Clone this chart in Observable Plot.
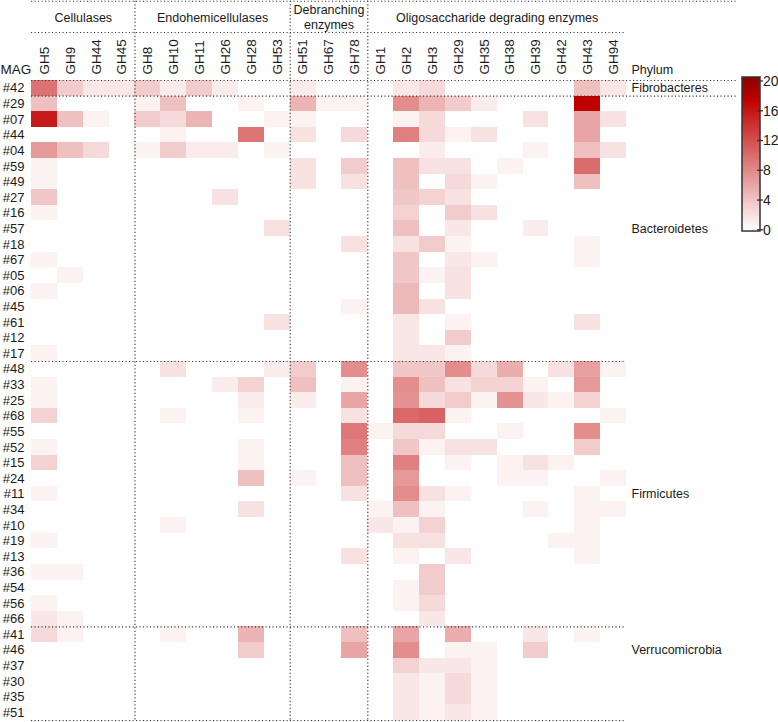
<!DOCTYPE html>
<html><head><meta charset="utf-8">
<script src="https://cdn.jsdelivr.net/npm/d3@7"></script>
<script src="https://cdn.jsdelivr.net/npm/@observablehq/plot@0.6"></script>
<style>
body{margin:0;background:#fff;}
#chart svg{display:block;}
</style></head><body><div id="chart"></div>
<script>
// ---- data ----
const columns = ["GH5","GH9","GH44","GH45","GH8","GH10","GH11","GH26","GH28","GH53","GH51","GH67","GH78","GH1","GH2","GH3","GH29","GH35","GH38","GH39","GH42","GH43","GH94"];
const groupLabels = ["Cellulases","Endohemicellulases","Debranching\nenzymes","Oligosaccharide degrading enzymes"];
const groupSizes = [4,6,3,10];
const mags = ["#42","#29","#07","#44","#04","#59","#49","#27","#16","#57","#18","#67","#05","#06","#45","#61","#12","#17","#48","#33","#25","#68","#55","#52","#15","#24","#11","#34","#10","#19","#13","#36","#54","#56","#66","#41","#46","#37","#30","#35","#51"];
const phylumNames = ["Fibrobacteres","Bacteroidetes","Firmicutes","Verrucomicrobia"];
const phylumSizes = [1,17,17,6];
const phylumLabelAt = ["#42","#57","#11","#46"];
const colorTicks = [0,4,8,12,16,20];
const colorStops = [0,17,20];
const colorRange = ["#ffffff","#c00000","#8b0000"];
const values = [
  [9.4,3.4,1.7,1.7, 3.4,1.3,3.4,1.3,0,0, 1.3,0,0, 0,1.7,2.5,0,0,0,0,0,4.2,1.7],   // #42
  [4.2,0,0,0, 0.9,4.2,0,0,0.9,0, 5,0.9,0.9, 0,7.6,5,3.4,1.3,0,0,0,17,0],         // #29
  [15.3,4.2,0.9,0, 3.4,2.5,5,0,0,0.9, 0.9,0,0, 0,0.9,2.5,0,0,0,2,0,6,2],         // #07
  [0,0,0,0, 0,0.9,0,0,9.2,0, 2,0,2.5, 0,8.5,2.5,0.9,2,0,0,0,6,0],                // #44
  [6.8,4.2,2.5,0, 0.9,3.4,1.3,1.3,0,0.9, 0,0,0, 0,0,1.3,0,0,0,0.9,0,4.2,2],      // #04
  [0.9,0,0,0, 0,0,0,0,0,0, 2,0,3.4, 0,4.2,2,2,0,0.9,0,0,9.8,0],                  // #59
  [0.9,0,0,0, 0,0,0,0,0,0, 2,0,2, 0,4.2,0,2.5,0.9,0,0,0,4.2,0],                  // #49
  [3.8,0,0,0, 0,0,0,2,0,0, 0,0,0, 0,3.8,3,2,0,0,0,0,0,0],                        // #27
  [0.9,0,0,0, 0,0,0,0,0,0, 0,0,0, 0,3,0,3.4,2,0,0,0,0,0],                        // #16
  [0,0,0,0, 0,0,0,0,0,2, 0,0,0, 0,4.2,0,1.7,0,0,1.3,0,0,0],                      // #57
  [0,0,0,0, 0,0,0,0,0,0, 0,0,2, 0,2,3.4,0.9,0,0,0,0,0.9,0],                      // #18
  [0.9,0,0,0, 0,0,0,0,0,0, 0,0,0, 0,3.8,0,1.7,0.9,0,0,0,0.9,0],                  // #67
  [0,0.9,0,0, 0,0,0,0,0,0, 0,0,0, 0,3.8,0.9,2,0,0,0,0,0,0],                      // #05
  [0.9,0,0,0, 0,0,0,0,0,0, 0,0,0, 0,4.7,0,2,0,0,0,0,0,0],                        // #06
  [0,0,0,0, 0,0,0,0,0,0, 0,0,0.9, 0,4.7,2,0,0,0,0,0,0,0],                        // #45
  [0,0,0,0, 0,0,0,0,0,2, 0,0,0, 0,1.7,0,0.9,0,0,0,0,2,0],                        // #61
  [0,0,0,0, 0,0,0,0,0,0, 0,0,0, 0,1.7,0,3.4,0,0,0,0,0,0],                        // #12
  [0.9,0,0,0, 0,0,0,0,0,0, 0,0,0, 0,1.7,1.7,0.9,0,0,0,0,0,0],                    // #17
  [0,0,0,0, 0,2,0,0,0,1.3, 3.4,0,7.6, 0,3.8,3.8,7.6,2.5,5.5,0,2,6.4,0.9],        // #48
  [0.9,0,0,0, 0,0,0,1.3,3,0, 4.2,0,0.9, 0,7.6,4.2,2,3,3,0.9,0,6.8,0],            // #33
  [0.9,0,0,0, 0,0,0,0,1.3,0, 1.3,0,6, 0,7.2,2.5,3.4,0.9,7.2,1.7,0.9,3,0],        // #25
  [3,0,0,0, 0,0.9,0,0,0.9,0, 0,0,2, 0,10,10.5,0.9,0,0,0,0,0,0.9],                // #68
  [0,0,0,0, 0,0,0,0,0,0, 0,0,9, 0.9,2.5,2.5,0,0,0.9,0,0,7.6,0],                  // #55
  [0.9,0,0,0, 0,0,0,0,0.9,0, 0,0,8.5, 0,3.8,0.9,2,2,0,0,0,3.4,0],                // #52
  [3,0,0,0, 0,0,0,0,0.9,0, 0,0,4.2, 0,8.5,0,0.9,0,0.9,2,0.9,0,0],                // #15
  [0,0,0,0, 0,0,0,0,4.2,0, 0.9,0,4.2, 0,6.8,0,0,0,0.9,0.9,0,0,0.9],              // #24
  [0.9,0,0,0, 0,0,0,0,0,0, 0,0,2, 0,7.6,2,0.9,0,0,0,0,0.9,0],                    // #11
  [0,0,0,0, 0,0,0,0,2,0, 0,0,0, 0.9,4.2,0.9,0,0,0,0.9,0,0.9,0.9],                // #34
  [0,0,0,0, 0,0.9,0,0,0,0, 0,0,0, 1.7,0.9,3,0,0,0,0,0,0.9,0],                    // #10
  [0.9,0,0,0, 0,0,0,0,0,0, 0,0,0, 0,2,2,0,0,0,0,0.9,0.9,0],                      // #19
  [0,0,0,0, 0,0,0,0,0,0, 0,0,2, 0,0.9,0,1.7,0,0,0,0,0.9,0],                      // #13
  [0.9,0.9,0,0, 0,0,0,0,0,0, 0,0,0, 0,0,3.4,0,0,0,0,0,0,0],                      // #36
  [0,0,0,0, 0,0,0,0,0,0, 0,0,0, 0,0.9,3.4,0,0,0,0,0,0,0],                        // #54
  [0.9,0,0,0, 0,0,0,0,0,0, 0,0,0, 0,0.9,2.5,0,0,0,0,0,0,0],                      // #56
  [1.7,0.9,0,0, 0,0,0,0,0,0, 0,0,0, 0,0,1.7,0,0,0,0,0,0,0],                      // #66
  [2.5,0.9,0,0, 0,0.9,0,0,5,0, 0,0,4.2, 0,6,0,5.5,0,0,1.7,0,0.9,0],              // #41
  [0,0,0,0, 0,0,0,0,3.4,0, 0,0,6, 0,7.6,0,0.9,0.9,0,3.4,0,0,0],                  // #46
  [0,0,0,0, 0,0,0,0,0,0, 0,0,0, 0,3,1.7,1.7,0.9,0,0,0,0,0],                      // #37
  [0,0,0,0, 0,0,0,0,0,0, 0,0,0, 0,1.7,0.9,2.5,0.9,0,0,0,0,0],                    // #30
  [0,0,0,0, 0,0,0,0,0,0, 0,0,0, 0,1.7,0.9,2.5,0.9,0,0,0,0,0],                    // #35
  [0,0,0,0, 0,0,0,0,0,0, 0,0,0, 0,1.7,0.9,1.7,0.9,0,0,0,0,0]                     // #51
];

// ---- derived tables ----
const nCol = columns.length, nRow = mags.length;
const cells = [];
values.forEach((row, r) => row.forEach((v, c) => { if (v > 0) cells.push({r, c, v, mag: mags[r], gh: columns[c]}); }));

let acc = 0;
const groups = groupLabels.map((label, i) => { const g = {label, start: acc, end: acc + groupSizes[i]}; acc += groupSizes[i]; return g; });
const groupBounds = groups.slice(1).map(g => g.start);
acc = 0;
const phyla = phylumNames.map((name, i) => { const p = {name, start: acc, end: acc + phylumSizes[i], labelRow: mags.indexOf(phylumLabelAt[i])}; acc += phylumSizes[i]; return p; });
const phylumBounds = phyla.map(p => p.end);

// layout (in row / column units of the scales)
const W = 778, H = 722;
const mL = 31, mR = 152, mT = 80, mB = 2;
const colW = (W - mL - mR) / nCol;
const rowH = (H - mT - mB) / nRow;
const yTop = -mT / rowH + 0.05;
const ySep = -(mT - 32) / rowH;
const yGroup = -(mT - 16.5) / rowH;
const yHead = -(mT - 69) / rowH;
const xFar = (737 - mL) / colW;

const dots = {stroke: "#333", strokeWidth: 1.1, strokeDasharray: "1.1,2.4"};
const font = "Liberation Sans, Arial, Helvetica, sans-serif";

const chart = Plot.plot({
  width: W, height: H,
  marginLeft: mL, marginRight: mR, marginTop: mT, marginBottom: mB,
  x: {domain: [0, nCol], axis: null, label: null},
  y: {domain: [0, nRow], reverse: true, axis: null, label: null},
  color: {type: "linear", domain: colorStops, range: colorRange, interpolate: "rgb"},
  style: {fontFamily: font, fontSize: "13px", color: "#1a1a1a", background: "#fff"},
  marks: [
    Plot.rect(cells, {x1: "c", x2: d => d.c + 1, y1: "r", y2: d => d.r + 1, fill: "v", inset: 0, shapeRendering: "crispEdges"}),
    Plot.axisX(d3.range(nCol).map(i => i + 0.5), {anchor: "top", label: null, tickSize: 0, tickPadding: 6, tickRotate: -90, tickFormat: t => columns[Math.floor(t)], fontSize: 13.5}),
    Plot.axisY(d3.range(nRow).map(i => i + 0.5), {anchor: "left", label: null, tickSize: 0, tickPadding: 7, tickFormat: t => mags[Math.floor(t)], fontSize: 13}),
    // dotted separators
    Plot.ruleX(groupBounds, {y1: yTop, y2: nRow, ...dots}),
    Plot.ruleY([yTop, 0, 1], {x1: 0, x2: xFar, ...dots}),
    Plot.ruleY([ySep, ...phylumBounds.slice(1)], {x1: 0, x2: nCol, ...dots}),
    // group titles
    Plot.text(groups, {x: d => (d.start + d.end) / 2, y: yGroup, text: "label", lineHeight: 1.15, fontSize: 12.5}),
    // phylum labels
    Plot.text(phyla, {x: nCol, y: d => d.labelRow + 0.5, text: "name", textAnchor: "start", dx: 5, fontSize: 12.5}),
    Plot.text(["Phylum"], {x: nCol, y: yHead, text: d => d, textAnchor: "start", dx: 5, fontSize: 12.5}),
    Plot.text(["MAG"], {x: 0, y: yHead, text: d => d, textAnchor: "start", dx: -mL, fontSize: 13.5})
  ]
});
document.getElementById("chart").appendChild(chart);

// ---- vertical colour bar built from the plot's colour scale ----
const color = chart.scale("color");
const svg = d3.select(chart);
const barX = 742, barW = 18, barTop = 77, barBot = 231;
const cy = d3.scaleLinear().domain([0, 20]).range([229.8, 81]);
const defs = svg.append("defs");
const grad = defs.append("linearGradient").attr("id", "cbar").attr("x1", 0).attr("x2", 0).attr("y1", 1).attr("y2", 0);
d3.range(0, 20.5, 0.5).forEach(v => grad.append("stop").attr("offset", v / 20).attr("stop-color", color.apply(v)));
svg.append("rect").attr("x", barX).attr("y", barTop).attr("width", barW).attr("height", barBot - barTop)
  .attr("fill", "url(#cbar)").attr("stroke", "#333").attr("stroke-width", 1.5);
const tk = svg.append("g").attr("font-family", font).attr("font-size", 14).attr("fill", "#1a1a1a").attr("text-anchor", "start");
colorTicks.forEach(t => {
  tk.append("line").attr("x1", barX + barW - 3).attr("x2", barX + barW + 3).attr("y1", cy(t)).attr("y2", cy(t)).attr("stroke", "#333").attr("stroke-width", 1.3);
  tk.append("text").attr("x", barX + barW + 3).attr("y", cy(t)).attr("dy", "0.35em").attr("text-anchor", "start").text(t);
});
</script>
</body></html>
